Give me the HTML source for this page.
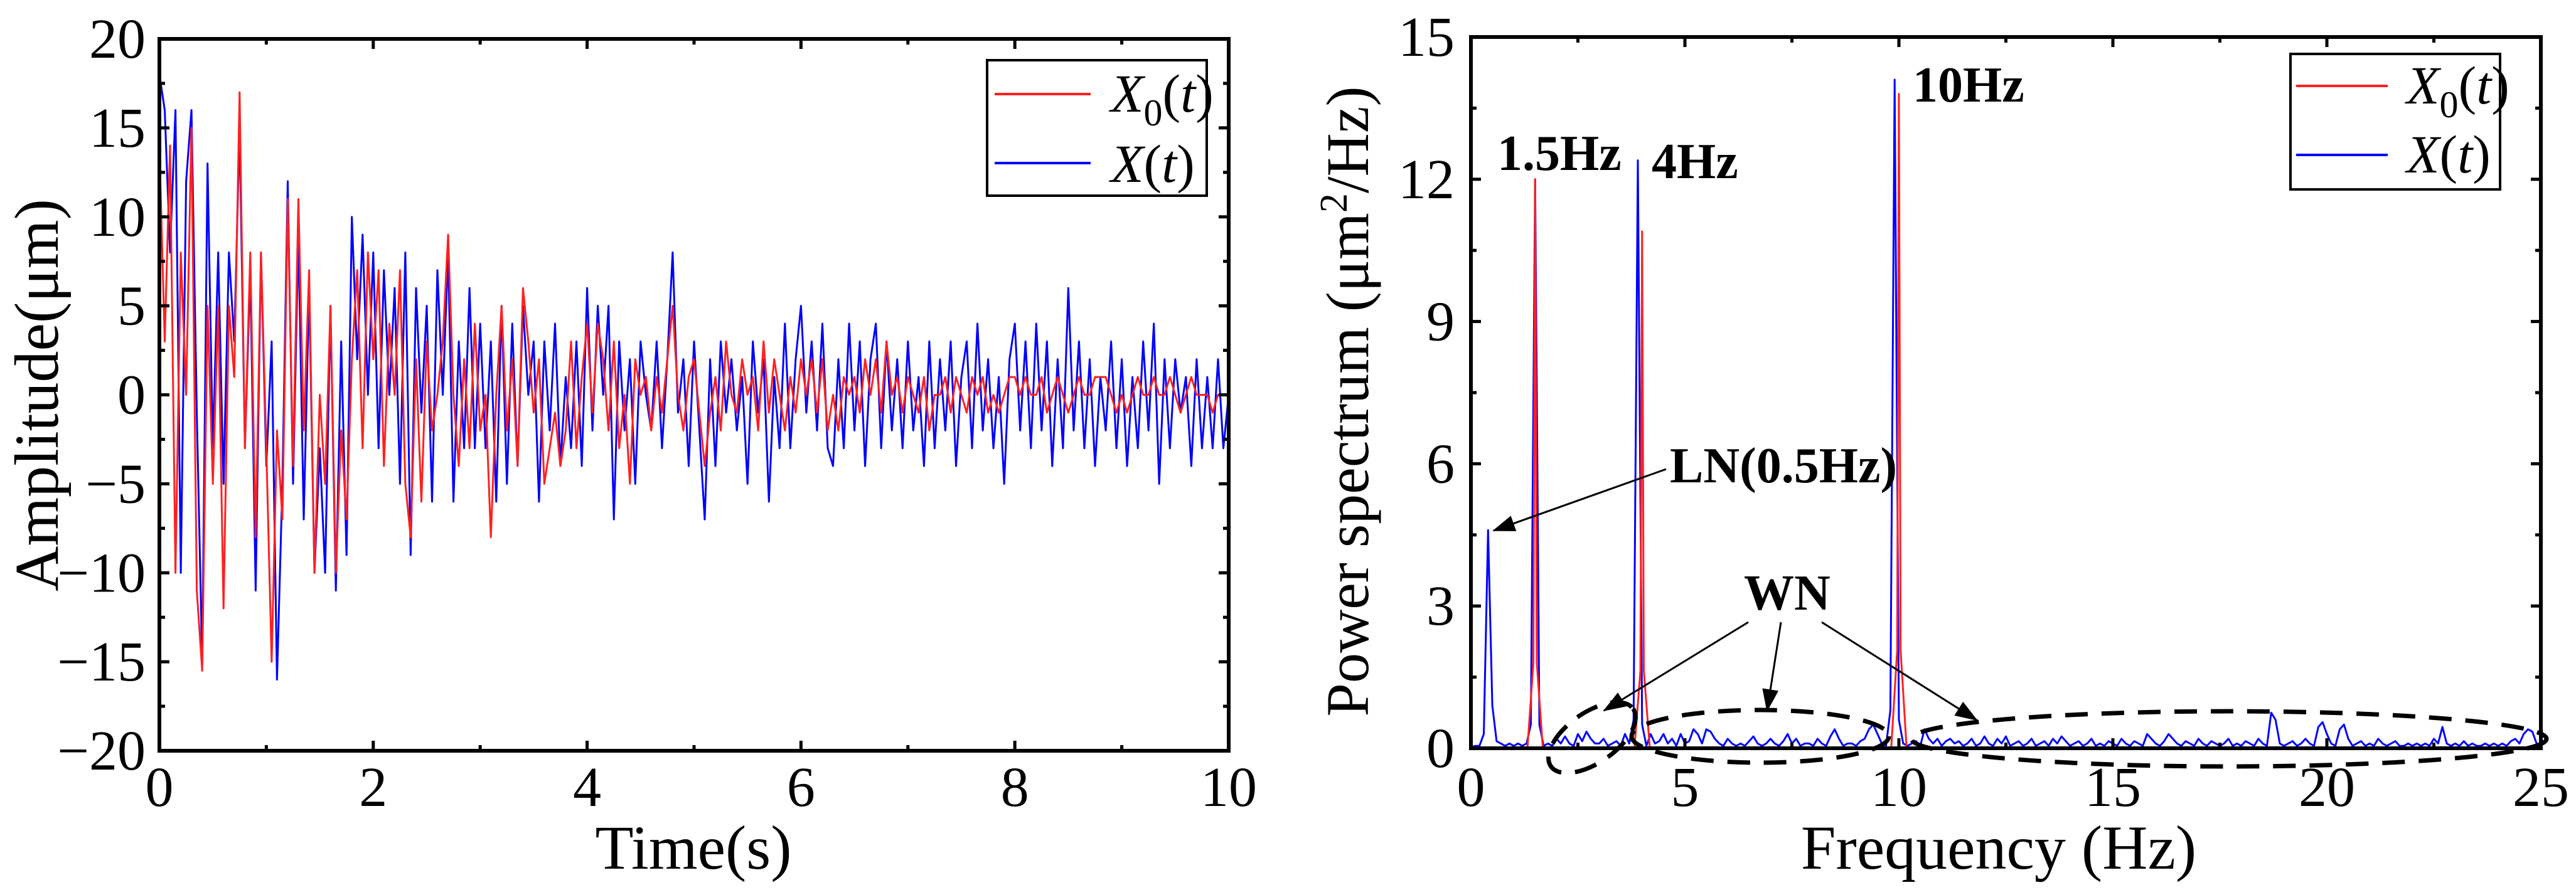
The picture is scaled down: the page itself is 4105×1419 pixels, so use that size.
<!DOCTYPE html>
<html><head><meta charset="utf-8">
<style>
html,body{margin:0;padding:0;background:#fff;}
svg{display:block;}
svg text{font-family:"Liberation Serif","Times New Roman",serif;}
</style></head>
<body>
<svg id="fig" width="4105" height="1419" viewBox="0 0 4105 1419" xmlns="http://www.w3.org/2000/svg" font-family="Liberation Serif, serif">
<g id="left"></g>
<g id="right"></g>
</svg>
<script>
// ---------- Left chart data ----------
const timeStep = 0.05;
const x0Values = [14,3,14,-10,8,0,15,-11,-15.5,5,-5,5,-12,5,1,17,-3,8,-8,8,
-3,-15,-2,-7,11,-4,11,-2,7,-10,0,-5,5,-10,-2,-7,2,7,-3,8,
2,7,-4,4,0,7,-5,-8,2,-6,3,-2,0,3,9,0,-4,2,-3,4,
-2,0,-8,0,5,-2,2,-4,6,3,-1,2,-5,-3,-1,-4,-2,3,-3,1,
4,-1,4,2,-2,3,-3,0,-5,2,0,1,-2,1,-1,2,5,0,-2,1,
2,-1,-4,-1,1,-2,3,0,-1,2,0,1,-2,3,-1,2,0,-2,1,-1,
2,0,2,-1,2,-2,0,-2,1,0,1,-1,2,0,2,-1,3,0,1,-1,
1,0,-1,1,-2,0,0,1,-1,1,0,-1,1,0,1,-1,0,-1,0,1,
1,0,1,0,0,1,-1,0,1,0,-1,0,1,0,0,1,1,1,0,-1,
0,-1,0,1,0,0,1,0,0,1,0,-1,0,1,0,0,0,-1,0,0,0];
const xValues = [18,16,8,16,-10,12,16,-1,-15,13,-3,8,-5,8,3,15,-3,7,-11,8,
-4,3,-16,-5,12,-5,9,-7,6,-10,-3,-10,5,-11,3,-9,10,2,9,0,
8,-3,7,0,6,-5,8,-9,6,-1,5,-6,7,0,8,-6,3,-3,6,-3,
4,-3,3,-6,5,-5,4,-4,5,0,3,-6,3,-2,4,-4,1,-3,3,-4,
6,-2,5,0,5,-7,3,-2,2,-5,3,0,-2,3,-3,2,8,-1,2,-4,
3,-2,-7,2,-4,3,-1,2,-2,1,-5,3,-1,2,-6,1,-3,4,-3,2,
5,-1,3,-2,4,-3,-4,2,-3,4,-2,3,-4,2,4,-3,3,-2,2,-3,
3,-2,1,-4,3,-3,2,-2,3,-4,1,3,-3,4,-2,2,-3,1,-5,2,
4,-2,3,-3,4,-2,3,-4,2,-3,6,-2,3,-3,2,-4,1,-2,3,-3,
2,-4,1,-3,3,-2,4,-5,2,-3,2,-1,1,-4,2,-3,1,-3,2,-3,0];
const timeTicks = [0,2,4,6,8,10];
const ampTicks = [-20,-15,-10,-5,0,5,10,15,20];

// ---------- Right chart data ----------
const freqStep = 0.1;
const xSpectrum = [0.02,0.05,0.05,0.3,4.6,0.9,0.15,0.1,0.05,0.1,
0.05,0.1,0.05,0.1,0.5,12,0.5,0.05,0.1,0.05,
0.2,0.1,0.25,0.1,0.05,0.3,0.15,0.35,0.2,0.1,
0.1,0.2,0.05,0.1,0.15,0.05,0.3,0.1,0.6,12.4,
0.5,0.05,0.3,0.1,0.15,0.3,0.1,0.2,0.05,0.3,
0.1,0.15,0.4,0.3,0.1,0.4,0.35,0.2,0.1,0.05,
0.2,0.1,0.05,0.1,0.05,0.15,0.25,0.1,0.05,0.1,
0.2,0.1,0.05,0.15,0.3,0.1,0.2,0.05,0.1,0.1,
0.05,0.2,0.1,0.05,0.25,0.4,0.2,0.05,0.1,0.1,
0.05,0.15,0.2,0.4,0.5,0.3,0.1,0.05,0.8,14.1,
0.6,0.1,0.05,0.1,0.15,0.05,0.4,0.2,0.1,0.2,
0.05,0.15,0.2,0.1,0.15,0.05,0.1,0.2,0.05,0.1,
0.25,0.1,0.05,0.2,0.1,0.25,0.05,0.1,0.15,0.05,
0.1,0.2,0.05,0.1,0.15,0.05,0.2,0.1,0.25,0.15,
0.05,0.1,0.15,0.05,0.1,0.2,0.05,0.1,0.05,0.15,
0.1,0.05,0.2,0.1,0.05,0.15,0.1,0.05,0.3,0.2,
0.1,0.05,0.15,0.3,0.2,0.1,0.05,0.15,0.1,0.05,
0.2,0.1,0.05,0.15,0.1,0.05,0.1,0.2,0.05,0.1,
0.05,0.15,0.1,0.05,0.2,0.1,0.05,0.75,0.6,0.1,
0.05,0.1,0.15,0.05,0.1,0.2,0.1,0.05,0.45,0.55,
0.3,0.1,0.05,0.4,0.5,0.2,0.05,0.1,0.15,0.05,
0.1,0.05,0.2,0.1,0.05,0.1,0.15,0.05,0.05,0.1,
0.05,0.1,0.05,0.1,0.05,0.2,0.1,0.45,0.1,0.05,
0.1,0.05,0.15,0.05,0.1,0.05,0.05,0.1,0.05,0.1,
0.05,0.1,0.05,0.15,0.2,0.1,0.3,0.4,0.35,0.1,
0.05];
const x0PeakFreqs = [1.5,4,10];
const x0PeakValues = [12.0,10.9,13.8];
const freqTicks = [0,5,10,15,20,25];
const psdTicks = [0,3,6,9,12,15];

const NS = "http://www.w3.org/2000/svg";
const SERIF = "Liberation Serif, Times New Roman, serif";
function mk(parent, tag, attrs) {
  const e = document.createElementNS(NS, tag);
  for (const k in attrs) e.setAttribute(k, attrs[k]);
  if (tag === 'text') e.setAttribute('font-family', SERIF);
  parent.appendChild(e);
  return e;
}

// ---------- Left chart ----------
(function(){
  const g = document.getElementById('left');
  const L=254, R=1958, T=62, B=1197;
  const sx = v => L + (v-0)/(10-0)*(R-L);
  const sy = v => B - (v+20)/40*(B-T);
  let d1 = x0Values.map((v,i)=>(i?'L':'M')+sx(i*timeStep).toFixed(1)+','+sy(v).toFixed(1)).join('');
  let d2 = xValues.map((v,i)=>(i?'L':'M')+sx(i*timeStep).toFixed(1)+','+sy(v).toFixed(1)).join('');
  const p2 = mk(g,'path',{d:d2,fill:'none',stroke:'#0000ff','stroke-width':3,'stroke-linejoin':'round'});
  
  
  const p1 = mk(g,'path',{d:d1,fill:'none',stroke:'#ff2020','stroke-width':3,'stroke-linejoin':'round'});
  
  
  const fr = mk(g,'rect',{x:L,y:T,width:R-L,height:B-T,fill:'none',stroke:'#000','stroke-width':6});
  
  
  for (let v=0; v<=10; v+=1) {
    const len = v%2===0 ? 16 : 9;
    mk(g,'line',{x1:sx(v),x2:sx(v),y1:B,y2:B-len,stroke:'#000','stroke-width':5});
    mk(g,'line',{x1:sx(v),x2:sx(v),y1:T,y2:T+len,stroke:'#000','stroke-width':5});
  }
  timeTicks.forEach(v=>{
    const t = mk(g,'text',{x:sx(v),y:1285,'font-size':90,'text-anchor':'middle'});
    t.textContent = v;
    
    
  });
  for (let v=-20; v<=20; v+=2.5) {
    const len = v%5===0 ? 16 : 9;
    mk(g,'line',{x1:L,x2:L+len,y1:sy(v),y2:sy(v),stroke:'#000','stroke-width':5});
    mk(g,'line',{x1:R,x2:R-len,y1:sy(v),y2:sy(v),stroke:'#000','stroke-width':5});
  }
  ampTicks.forEach(v=>{
    const t = mk(g,'text',{x:232,y:sy(v)+30,'font-size':90,'text-anchor':'end'});
    t.textContent = v<0 ? '\u2212'+(-v) : v;
    
    
  });
  const xt = mk(g,'text',{x:1105,y:1385,'font-size':100,'text-anchor':'middle'});
  xt.textContent='Time(s)';
  
  
  const yt = mk(g,'text',{x:0,y:0,'font-size':100,'text-anchor':'middle',transform:'translate(92,630) rotate(-90)'});
  yt.textContent='Amplitude(\u03bcm)';
  
  
  const lg = mk(g,'g',{});
  
  
  mk(lg,'rect',{x:1573,y:96,width:350,height:216,fill:'#fff',stroke:'#000','stroke-width':4});
  mk(lg,'line',{x1:1585,x2:1738,y1:150,y2:150,stroke:'#ff2020','stroke-width':4});
  mk(lg,'line',{x1:1585,x2:1738,y1:260,y2:260,stroke:'#0000ff','stroke-width':4});
  const l1 = mk(lg,'text',{x:1770,y:178,'font-size':86});
  l1.innerHTML='<tspan font-style="italic">X</tspan><tspan font-size="60" dy="22">0</tspan><tspan dy="-22">(</tspan><tspan font-style="italic">t</tspan>)';
  
  
  const l2 = mk(lg,'text',{x:1770,y:290,'font-size':86});
  l2.innerHTML='<tspan font-style="italic">X</tspan>(<tspan font-style="italic">t</tspan>)';
  
  
})();

// ---------- Right chart ----------
(function(){
  const g = document.getElementById('right');
  const L=2344, R=4049, T=59, B=1193;
  const sx = v => L + v/25*(R-L);
  const sy = v => B - v/15*(B-T);
  const d2 = xSpectrum.map((v,i)=>(i?'L':'M')+sx(i*freqStep).toFixed(1)+','+sy(v).toFixed(1)).join('');
  const p2 = mk(g,'path',{d:d2,fill:'none',stroke:'#0000ff','stroke-width':3,'stroke-linejoin':'round'});
  
  
  let d1 = 'M'+sx(0)+','+sy(0);
  x0PeakFreqs.forEach((f,i)=>{
    d1 += 'L'+sx(f-0.18)+','+sy(0)+'L'+sx(f-0.04)+','+sy(x0PeakValues[i]*0.15)+'L'+sx(f)+','+sy(x0PeakValues[i])
       +'L'+sx(f+0.04)+','+sy(x0PeakValues[i]*0.15)+'L'+sx(f+0.18)+','+sy(0);
  });
  d1 += 'L'+sx(25)+','+sy(0);
  const p1 = mk(g,'path',{d:d1,fill:'none',stroke:'#ff2020','stroke-width':3,'stroke-linejoin':'round'});
  
  
  const fr = mk(g,'rect',{x:L,y:T,width:R-L,height:B-T,fill:'none',stroke:'#000','stroke-width':6});
  
  
  for (let v=0; v<=25; v+=2.5) {
    const len = v%5===0 ? 16 : 9;
    mk(g,'line',{x1:sx(v),x2:sx(v),y1:B,y2:B-len,stroke:'#000','stroke-width':5});
    mk(g,'line',{x1:sx(v),x2:sx(v),y1:T,y2:T+len,stroke:'#000','stroke-width':5});
  }
  freqTicks.forEach(v=>{
    const t = mk(g,'text',{x:sx(v),y:1285,'font-size':90,'text-anchor':'middle'});
    t.textContent=v;
    
    
  });
  for (let v=0; v<=15; v+=1.5) {
    const len = (v%3===0) ? 16 : 9;
    mk(g,'line',{x1:L,x2:L+len,y1:sy(v),y2:sy(v),stroke:'#000','stroke-width':5});
    mk(g,'line',{x1:R,x2:R-len,y1:sy(v),y2:sy(v),stroke:'#000','stroke-width':5});
  }
  psdTicks.forEach(v=>{
    const t = mk(g,'text',{x:2318,y:sy(v)+30,'font-size':90,'text-anchor':'end'});
    t.textContent=v;
    
    
  });
  const xt = mk(g,'text',{x:3185,y:1385,'font-size':100,'text-anchor':'middle'});
  xt.textContent='Frequency (Hz)';
  
  
  const yt = mk(g,'text',{x:0,y:0,'font-size':96,'text-anchor':'middle',transform:'translate(2180,640) rotate(-90)'});
  yt.innerHTML='Power spectrum (\u03bcm<tspan font-size="62" dy="-34">2</tspan><tspan dy="34">/Hz)</tspan>';
  
  
  const ann = [['1.5Hz',2386,271],['4Hz',2632,284],['10Hz',3048,162],['LN(0.5Hz)',2661,769],['WN',2779,972]];
  ann.forEach(a=>{
    const t = mk(g,'text',{x:a[1],y:a[2],'font-size':80,'font-weight':'bold'});
    t.textContent=a[0];
    
    
  });
  const defs = mk(g,'defs',{});
  const mkr = mk(defs,'marker',{id:'ah',markerWidth:36,markerHeight:26,refX:34,refY:13,orient:'auto',markerUnits:'userSpaceOnUse'});
  mk(mkr,'path',{d:'M0,0 L36,13 L0,26 Z',fill:'#000'});
  const arrows = [[2655,748,2380,846],[2786,992,2556,1133],[2838,992,2816,1133],[2903,992,3150,1148]];
  arrows.forEach(a=>{
    const l = mk(g,'line',{x1:a[0],y1:a[1],x2:a[2],y2:a[3],stroke:'#000','stroke-width':3,'marker-end':'url(#ah)'});
    
    
  });
  const ells = [[2537,1176,80,40,-35],[2805,1174,205,42,0],[3552,1178,506,44,0]];
  ells.forEach(e=>{
    const el = mk(g,'ellipse',{cx:e[0],cy:e[1],rx:e[2],ry:e[3],fill:'none',stroke:'#000','stroke-width':7,'stroke-dasharray':'36 22',transform:'rotate('+e[4]+' '+e[0]+' '+e[1]+')'});
    
    
  });
  const lg = mk(g,'g',{});
  
  
  mk(lg,'rect',{x:3650,y:86,width:334,height:216,fill:'#fff',stroke:'#000','stroke-width':4});
  mk(lg,'line',{x1:3659,x2:3805,y1:137,y2:137,stroke:'#ff2020','stroke-width':4});
  mk(lg,'line',{x1:3659,x2:3805,y1:247,y2:247,stroke:'#0000ff','stroke-width':4});
  const l1 = mk(lg,'text',{x:3835,y:165,'font-size':86});
  l1.innerHTML='<tspan font-style="italic">X</tspan><tspan font-size="60" dy="22">0</tspan><tspan dy="-22">(</tspan><tspan font-style="italic">t</tspan>)';
  
  
  const l2 = mk(lg,'text',{x:3835,y:275,'font-size':86});
  l2.innerHTML='<tspan font-style="italic">X</tspan>(<tspan font-style="italic">t</tspan>)';
  
  
})();
</script>
</body></html>
